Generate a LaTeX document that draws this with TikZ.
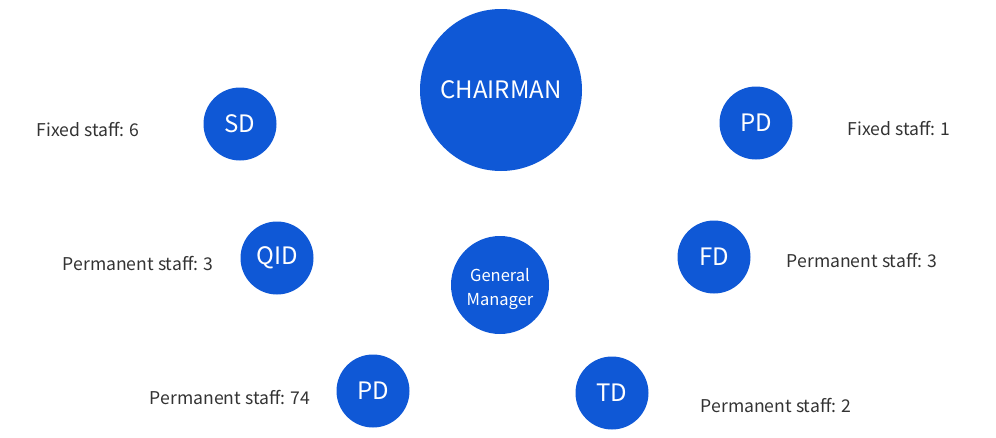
\documentclass[tikz,border=0pt]{standalone}
\usepackage{fontspec}
\setmainfont{Noto Sans CJK SC}
\definecolor{orgblue}{RGB}{15,88,214}
\definecolor{orggray}{RGB}{51,51,51}
\usetikzlibrary{positioning}

\begin{document}
\begin{tikzpicture}[
  x=1pt, y=-1pt,
  boss/.style={circle, fill=orgblue, inner sep=0pt, minimum size=162pt,
               font=\fontsize{24}{28}\selectfont, text=white},
  dept/.style={circle, fill=orgblue, inner sep=0pt, minimum size=73pt,
               font=\fontsize{24}{28}\selectfont, text=white},
  gmbox/.style={circle, fill=orgblue, inner sep=0pt, minimum size=98pt},
  gmtext/.style={inner sep=0pt, font=\fontsize{16.5}{24}\selectfont,
               text=white, align=center},
  staff/.style={anchor=base, inner sep=0pt, font=\fontsize{17.6}{22}\selectfont,
               text=orggray}
]
\useasboundingbox (0,0) rectangle (996,437);

% Center nodes
\node[boss]  (chair) at (501, 90)  {CHAIRMAN};
\node[gmbox, label={[gmtext, yshift=-3.5pt]center:General\\Manager}] (gm) at (500,285) {};

% Departments
\node[dept] (sd)   at (240,124) {SD};
\node[dept] (pdtop) at (756,123) {PD};
\node[dept] (qid)  at (277,258) {QID};
\node[dept] (fd)   at (714,257) {FD};
\node[dept] (pdbot) at (373,391) {PD};
\node[dept] (td)   at (612,393) {TD};

% Staff labels
\node[staff] (sdstaff)   at ( 88,136) {Fixed staff: 6};
\node[staff] (pdtstaff)  at (899,135) {Fixed staff: 1};
\node[staff] (qidstaff)  at (138,270) {Permanent staff: 3};
\node[staff] (fdstaff)   at (862,267) {Permanent staff: 3};
\node[staff] (pdbstaff)  at (230,404) {Permanent staff: 74};
\node[staff] (tdstaff)   at (776,412) {Permanent staff: 2};
\end{tikzpicture}
\end{document}
